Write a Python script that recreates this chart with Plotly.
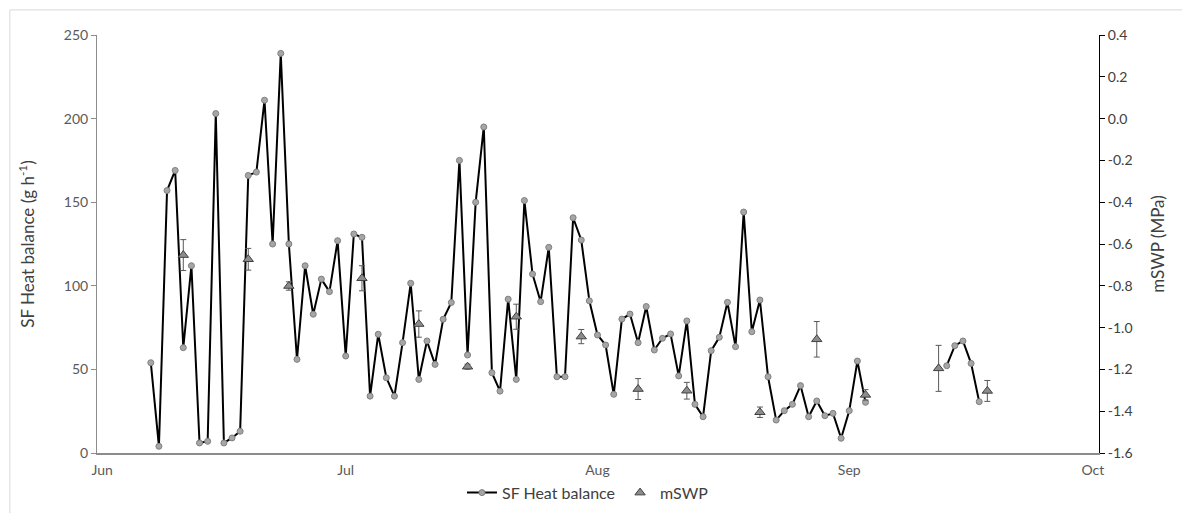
import plotly.graph_objects as go
import pandas as pd

# ---- data ----
sf_start_1 = "2016-06-07"
sf_values_1 = [54, 4, 157, 169, 63, 112, 6, 7, 203, 6, 9, 13, 166, 168, 211, 125, 239, 125,
               56, 112, 83, 104, 96.5, 127, 58, 131, 129, 34, 71, 45, 34, 66, 101.5, 44, 67,
               53, 80, 90, 175, 58.6, 150, 195, 48, 37, 92, 44, 151, 107, 90.5, 123, 45.6,
               45.6, 140.7, 127.4, 91, 70.6, 64.6, 35.1, 80.1, 83.1, 66, 87.6, 61.6, 68.6,
               71.2, 46.1, 79, 29.1, 21.7, 61.2, 69.2, 90.1, 63.6, 144.1, 72.5, 91.5, 45.6,
               19.7, 25.3, 29.1, 40.3, 21.7, 31.1, 22.3, 23.7, 8.8, 25.3, 55, 30.3]
sf_start_2 = "2016-09-13"
sf_values_2 = [52.2, 64.2, 67.0, 53.6, 30.7]

mswp_dates = ["2016-06-11", "2016-06-19", "2016-06-24", "2016-07-03", "2016-07-10",
              "2016-07-16", "2016-07-22", "2016-07-30", "2016-08-06", "2016-08-12",
              "2016-08-21", "2016-08-28", "2016-09-03", "2016-09-12", "2016-09-18"]
mswp_values = [-0.653, -0.673, -0.801, -0.764, -0.983, -1.187, -0.948, -1.043, -1.294,
               -1.302, -1.405, -1.056, -1.322, -1.195, -1.303]
mswp_err = [0.074, 0.052, 0.02, 0.06, 0.063, 0.012, 0.06, 0.034, 0.05, 0.04, 0.025,
            0.085, 0.025, 0.11, 0.05]

left_ticks = [0, 50, 100, 150, 200, 250]
right_ticks = [0.4, 0.2, 0.0, -0.2, -0.4, -0.6, -0.8, -1.0, -1.2, -1.4, -1.6]
right_tick_text = ["0.4", "0.2", "0.0", "-0.2", "-0.4", "-0.6", "-0.8", "-1.0", "-1.2", "-1.4", "-1.6"]

# build x/y with a gap between segments
d1 = list(pd.date_range(sf_start_1, periods=len(sf_values_1), freq="D"))
d2 = list(pd.date_range(sf_start_2, periods=len(sf_values_2), freq="D"))
sf_x = d1 + [d1[-1] + pd.Timedelta(days=1)] + d2
sf_y = sf_values_1 + [None] + sf_values_2

FONT = "Lato"

fig = go.Figure()
fig.add_trace(go.Scatter(
    x=sf_x, y=sf_y, mode="lines+markers", name="SF Heat balance",
    connectgaps=False,
    line=dict(color="#000000", width=2),
    marker=dict(symbol="circle", size=6, color="#a6a6a6",
                line=dict(color="#7f7f7f", width=1)),
))
fig.add_trace(go.Scatter(
    x=mswp_dates, y=mswp_values, mode="markers", name="mSWP", yaxis="y2",
    marker=dict(symbol="triangle-up", size=9, color="#8c8c8c",
                line=dict(color="#404040", width=1)),
    error_y=dict(type="data", array=mswp_err, visible=True, color="#595959",
                 thickness=1, width=3),
))

# light border round the chart area
fig.add_shape(type="line", xref="paper", yref="paper", x0=-0.087, x1=1.1, y0=1.06, y1=1.06,
              line=dict(color="#d9d9d9", width=1))
fig.add_shape(type="line", xref="paper", yref="paper", x0=-0.087, x1=-0.087, y0=-0.2, y1=1.06,
              line=dict(color="#d9d9d9", width=1))

fig.update_layout(
    width=1182, height=513,
    margin=dict(l=97, r=83, t=35, b=60, autoexpand=False),
    paper_bgcolor="white", plot_bgcolor="white",
    font=dict(family=FONT, size=13, color="#595959"),
    showlegend=True,
    legend=dict(orientation="h", x=0.49, xanchor="center", y=-0.095, yanchor="middle",
                bgcolor="rgba(0,0,0,0)",
                font=dict(size=16, color="#404040"), itemwidth=30, traceorder="normal"),
    xaxis=dict(
        type="date",
        range=["2016-05-31 09:00", "2016-10-01 18:00"],
        dtick="M1", tick0="2016-06-01", tickformat="%b",
        showgrid=False, zeroline=False,
        showline=True, linecolor="#8c8c8c", linewidth=2,
        ticks="outside", ticklen=3, tickcolor="rgba(0,0,0,0)",
        tickfont=dict(size=14, color="#595959"),
        automargin=False,
    ),
    yaxis=dict(
        range=[0, 250], tickvals=left_ticks,
        showgrid=False, zeroline=False,
        showline=True, linecolor="#8c8c8c", linewidth=1,
        ticks="outside", ticklen=5, tickcolor="#8c8c8c",
        tickfont=dict(size=14, color="#595959"),
        title=dict(text="SF Heat balance (g h<sup>-1</sup>)", font=dict(size=17, color="#404040"),
                   standoff=24),
        automargin=False,
    ),
    yaxis2=dict(
        overlaying="y", side="right",
        range=[-1.6, 0.4], tickvals=right_ticks, ticktext=right_tick_text,
        showgrid=False, zeroline=False,
        showline=True, linecolor="#000000", linewidth=1,
        ticks="outside", ticklen=5, tickcolor="#000000",
        tickfont=dict(size=14, color="#404040"),
        title=dict(text="mSWP (MPa)", font=dict(size=17, color="#404040"), standoff=20),
        automargin=False,
    ),
)

fig.write_html("out.html", config={"displayModeBar": False},
               post_script="document.body.style.margin='0';")
